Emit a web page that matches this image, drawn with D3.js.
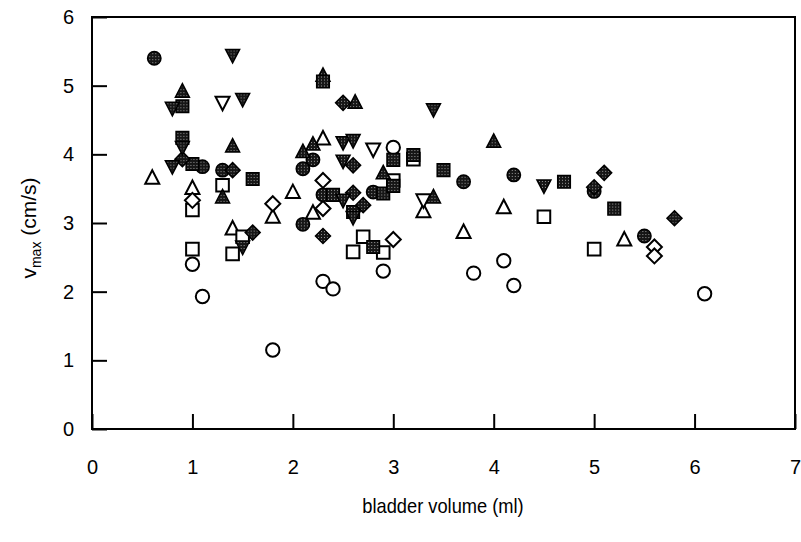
<!DOCTYPE html>
<html>
<head>
<meta charset="utf-8">
<script src="https://cdn.jsdelivr.net/npm/d3@7"></script>
<style>
  body { margin: 0; background: #fff; }
  svg { display: block; }
  text { font-family: "Liberation Sans", Arial, Helvetica, sans-serif; }
</style>
</head>
<body>
<svg id="chart" width="801" height="542"></svg>
<script>
// ---- Data (x = bladder volume in ml, y = vmax in cm/s) ----
const xTicks = [0, 1, 2, 3, 4, 5, 6, 7];
const yTicks = [0, 1, 2, 3, 4, 5, 6];

const openCircle = [[3.0,4.10],[1.0,2.40],[1.1,1.93],[1.8,1.15],[2.3,2.15],[2.4,2.04],[2.9,2.30],[3.8,2.27],[4.1,2.45],[4.2,2.09],[6.1,1.97]];
const openTriangle = [[0.6,3.66],[1.0,3.51],[1.8,3.09],[2.0,3.45],[1.4,2.92],[2.2,3.15],[2.3,4.23],[3.3,3.17],[3.7,2.87],[4.1,3.23],[5.3,2.76]];
const openSquare = [[1.3,3.55],[1.0,3.19],[1.0,2.62],[1.4,2.55],[1.5,2.80],[2.6,2.58],[2.7,2.80],[2.9,2.57],[3.0,3.62],[4.5,3.09],[5.0,2.62],[3.2,3.93]];
const openDiamond = [[1.0,3.33],[1.8,3.28],[2.3,3.62],[2.3,3.21],[3.0,2.76],[5.6,2.65],[5.6,2.52]];
const openInvTriangle = [[1.3,4.75],[2.8,4.07],[3.3,3.33]];
const filledCircle = [[0.62,5.40],[1.1,3.82],[1.3,3.77],[2.2,3.92],[2.1,3.79],[2.1,2.98],[2.3,3.41],[2.8,3.45],[3.7,3.60],[4.2,3.70],[5.0,3.46],[5.5,2.81]];
const filledTriangle = [[0.9,4.92],[1.4,4.12],[1.3,3.38],[2.3,5.15],[2.62,4.76],[2.2,4.15],[2.1,4.04],[2.9,3.73],[3.4,3.38],[4.0,4.19]];
const filledSquare = [[0.9,4.70],[0.9,4.24],[1.0,3.86],[1.6,3.64],[2.3,5.06],[2.4,3.41],[2.6,3.16],[2.9,3.43],[2.8,2.65],[3.0,3.92],[3.0,3.54],[3.2,3.99],[3.5,3.77],[4.7,3.60],[5.2,3.21]];
const filledDiamond = [[0.9,3.93],[1.4,3.77],[1.6,2.86],[2.3,2.81],[2.5,4.75],[2.6,3.84],[2.6,3.44],[2.7,3.26],[5.1,3.73],[5.0,3.52],[5.8,3.07]];
const filledInvTriangle = [[1.4,5.44],[0.8,4.67],[1.5,4.80],[0.9,4.10],[0.8,3.82],[1.5,2.65],[2.5,4.17],[2.6,4.20],[2.5,3.90],[2.5,3.33],[2.6,3.08],[3.4,4.65],[4.5,3.54]];

const series = [
  {shape: "circle", filled: false, data: openCircle},
  {shape: "triangle", filled: false, data: openTriangle},
  {shape: "square", filled: false, data: openSquare},
  {shape: "diamond", filled: false, data: openDiamond},
  {shape: "invtriangle", filled: false, data: openInvTriangle},
  {shape: "circle", filled: true, data: filledCircle},
  {shape: "triangle", filled: true, data: filledTriangle},
  {shape: "square", filled: true, data: filledSquare},
  {shape: "diamond", filled: true, data: filledDiamond},
  {shape: "invtriangle", filled: true, data: filledInvTriangle}
];

// ---- Layout ----
const svg = d3.select("#chart");
const mLeft = 92, mRight = 795, mTop = 17, mBottom = 429;

const x = d3.scaleLinear().domain([0, 7]).range([mLeft, mRight]);
const y = d3.scaleLinear().domain([0, 6]).range([mBottom, mTop]);

// texture pattern for filled markers
const defs = svg.append("defs");
const pat = defs.append("pattern").attr("id", "tex").attr("patternUnits", "userSpaceOnUse")
  .attr("width", 3).attr("height", 3);
pat.append("rect").attr("width", 3).attr("height", 3).attr("fill", "#161616");
pat.append("rect").attr("x", 1).attr("y", 1).attr("width", 1).attr("height", 1).attr("fill", "#9a9a9a");

// axes
const xAxis = d3.axisBottom(x).tickValues(xTicks).tickSizeInner(-15).tickSizeOuter(0).tickPadding(31).tickFormat(d3.format("d"));
const yAxis = d3.axisLeft(y).tickValues(yTicks).tickSizeInner(-15).tickSizeOuter(0).tickPadding(18).tickFormat(d3.format("d"));

const gx = svg.append("g").attr("transform", `translate(0,${mBottom})`).call(xAxis);
const gy = svg.append("g").attr("transform", `translate(${mLeft},0)`).call(yAxis);
[gx, gy].forEach(g => {
  g.select(".domain").remove();
  g.selectAll(".tick line").attr("stroke", "#000").attr("stroke-width", 2);
  g.selectAll(".tick text").attr("fill", "#000").style("font-size", "20px");
});

// frame
svg.append("rect").attr("x", mLeft).attr("y", mTop).attr("width", mRight - mLeft).attr("height", mBottom - mTop)
  .attr("fill", "none").attr("stroke", "#000").attr("stroke-width", 2);

// marker paths
function shapePath(shape) {
  switch (shape) {
    case "circle": return d3.symbol(d3.symbolCircle, 140)();
    case "square": return "M-6.3,-6.3H6.3V6.3H-6.3Z";
    case "diamond": return "M0,-7.5L7.5,0L0,7.5L-7.5,0Z";
    case "triangle": return "M0,-7.5L7,6L-7,6Z";
    case "invtriangle": return "M0,7.5L7,-6L-7,-6Z";
  }
}

const gm = svg.append("g");
series.forEach(s => {
  gm.selectAll(null).data(s.data).enter().append("path")
    .attr("d", shapePath(s.shape))
    .attr("transform", d => `translate(${x(d[0])},${y(d[1])})`)
    .attr("fill", s.filled ? "url(#tex)" : "#fff")
    .attr("stroke", "#000")
    .attr("stroke-width", s.filled ? 1.5 : 2);
});

// axis titles
svg.append("text").attr("transform", "translate(443,513) scale(0.87,1)").attr("text-anchor", "middle")
  .style("font-size", "21px").attr("fill", "#000").text("bladder volume (ml)");

const yt = svg.append("text").attr("transform", "translate(36,228) rotate(-90)")
  .attr("text-anchor", "middle").style("font-size", "21px").attr("fill", "#000");
yt.append("tspan").text("v");
yt.append("tspan").attr("dy", 5).style("font-size", "14px").text("max");
yt.append("tspan").attr("dy", -5).text(" (cm/s)");
</script>
</body>
</html>
